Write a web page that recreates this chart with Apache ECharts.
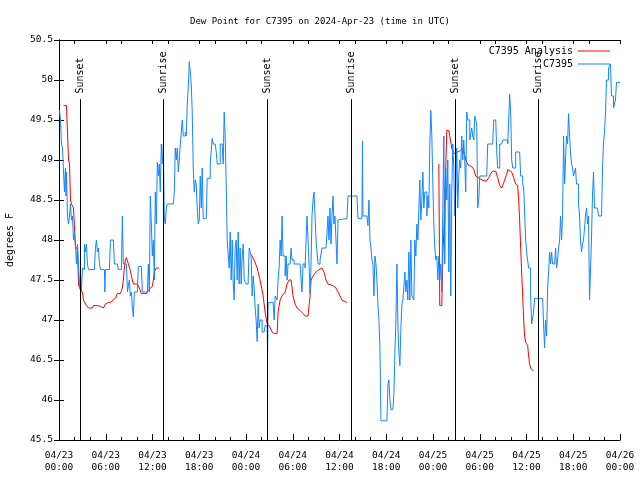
<!DOCTYPE html>
<html>
<head>
<meta charset="utf-8">
<script src="https://cdn.jsdelivr.net/npm/echarts@6/dist/echarts.min.js"></script>
<style>html,body{margin:0;padding:0;background:#fff}#c{width:640px;height:480px}</style>
</head>
<body>
<div id="c"></div>
<script>
// Hours since 2024-04-23 00:00 UTC
const xTickLabels = ['04/23\n00:00','04/23\n06:00','04/23\n12:00','04/23\n18:00','04/24\n00:00','04/24\n06:00','04/24\n12:00','04/24\n18:00','04/25\n00:00','04/25\n06:00','04/25\n12:00','04/25\n18:00','04/26\n00:00'];
const topTickHours = [0,2,6,8,12,14,18,20,24,26,30,32,36,38,42,44,48,50,54,56,60,62,66,68,72];
const sunNames = ['Sunset','Sunrise','Sunset','Sunrise','Sunset','Sunrise'];
const sunHours = [2.79,13.43,26.75,37.51,50.83,61.47];

const analysisPoints = [
[0.58,49.68],[0.96,49.68],[1.09,49.35],[1.22,49.0],[1.35,48.95],[1.47,48.5],[1.60,48.45],[1.86,48.4],[1.99,48.15],[2.11,47.9],[2.37,47.9],[2.50,47.45],[2.75,47.37],[3.01,47.35],[3.14,47.25],[3.39,47.25],[3.52,47.18],[3.78,47.15],[4.29,47.15],[4.42,47.18],[4.93,47.18],[5.32,47.17],[5.70,47.15],[5.96,47.2],[6.34,47.22],[6.60,47.22],[6.98,47.25],[7.24,47.27],[7.49,47.33],[7.88,47.33],[8.13,47.4],[8.26,47.5],[8.39,47.65],[8.52,47.75],[8.65,47.78],[8.90,47.7],[9.16,47.62],[9.29,47.55],[9.54,47.45],[10.06,47.45],[10.31,47.4],[10.57,47.33],[11.21,47.33],[11.47,47.37],[11.72,47.4],[11.98,47.42],[12.11,47.5],[12.23,47.6],[12.49,47.65],[12.87,47.65],
[18.5,null],
[24.66,47.82],[25.05,47.75],[25.43,47.65],[25.81,47.5],[26.20,47.3],[26.45,47.1],[26.71,46.95],[26.97,46.93],[27.35,46.85],[27.61,46.83],[27.99,46.83],[28.12,47.1],[28.38,47.25],[28.63,47.3],[29.02,47.35],[29.27,47.45],[29.53,47.5],[29.79,47.5],[30.04,47.3],[30.30,47.2],[30.55,47.15],[30.94,47.12],[31.32,47.08],[31.58,47.05],[31.96,47.05],[32.22,47.3],[32.35,47.5],[32.60,47.55],[32.99,47.6],[33.37,47.63],[33.75,47.65],[34.01,47.6],[34.27,47.5],[34.52,47.45],[35.17,47.43],[35.55,47.4],[35.81,47.35],[36.06,47.3],[36.32,47.25],[36.70,47.23],[36.96,47.22],
[42.0,null],
[48.75,48.95],[48.87,47.18],[49.13,47.18],[49.26,47.8],[49.39,48.1],[49.51,48.55],[49.64,48.9],[49.77,49.37],[50.03,49.37],[50.15,49.3],[50.41,49.15],[50.67,49.08],[50.92,49.07],[51.18,49.1],[51.56,49.12],[51.82,49.15],[52.07,49.05],[52.33,48.97],[52.59,48.93],[52.97,48.92],[53.23,48.88],[53.49,48.8],[53.74,48.78],[54.13,48.76],[54.51,48.74],[54.90,48.74],[55.15,48.78],[55.41,48.83],[55.66,48.86],[56.05,48.86],[56.30,48.78],[56.56,48.68],[56.82,48.65],[56.95,48.65],[57.20,48.75],[57.46,48.82],[57.59,48.88],[57.84,48.9],[58.10,48.85],[58.35,48.78],[58.61,48.7],[58.87,48.68],[59.0,48.5],[59.12,48.25],[59.25,47.9],[59.38,47.6],[59.51,47.3],[59.64,47.0],[59.76,46.8],[59.89,46.72],[60.15,46.68],[60.27,46.55],[60.40,46.45],[60.53,46.4],[60.78,46.37],[60.91,46.37]
];

const stationPoints = [
[0.06,49.62],[0.19,49.5],[0.32,49.2],[0.45,49.15],[0.58,48.85],[0.70,48.6],[0.83,48.9],[0.90,48.55],[0.96,48.85],[1.09,48.3],[1.22,48.2],[1.35,48.3],[1.47,48.45],[1.60,48.25],[1.73,48.3],[1.86,48.0],[1.99,48.1],[2.11,47.95],[2.24,47.7],[2.37,47.95],[2.50,47.7],[2.63,47.4],[2.75,47.6],[2.88,47.35],[3.01,47.65],[3.14,47.63],[3.27,47.95],[3.39,47.85],[3.52,47.95],[3.65,47.7],[3.78,47.63],[4.55,47.63],[4.68,47.9],[4.80,48.0],[4.93,47.85],[5.06,47.9],[5.19,47.7],[5.32,47.63],[5.83,47.63],[5.89,47.35],[5.96,47.63],[6.47,47.63],[6.60,48.0],[6.98,48.0],[7.11,47.7],[7.49,47.7],[7.62,47.63],[8.01,47.63],[8.13,48.3],[8.26,47.7],[8.65,47.7],[8.78,47.35],[9.03,47.5],[9.16,47.3],[9.29,47.35],[9.42,47.15],[9.54,47.04],[9.67,47.35],[10.06,47.35],[10.18,47.67],[10.57,47.67],[10.70,47.35],[11.34,47.35],[11.47,47.7],[11.59,47.35],[11.72,48.55],[11.85,48.2],[11.98,47.8],[12.11,48.0],[12.23,47.5],[12.36,48.6],[12.49,48.2],[12.62,48.97],[12.75,48.8],[12.87,48.95],[13.00,48.6],[13.13,49.2],[13.26,48.95],[13.39,49.2],[13.51,48.3],[13.64,48.2],[13.77,48.4],[13.90,48.45],[14.67,48.45],[14.80,48.6],[14.92,49.15],[15.05,49.0],[15.18,49.15],[15.31,48.85],[15.44,49.0],[15.57,49.2],[15.69,49.35],[15.82,49.5],[15.95,49.3],[16.21,49.35],[16.33,49.3],[16.46,49.7],[16.59,49.9],[16.72,50.23],[16.85,50.1],[16.97,49.95],[17.10,49.6],[17.23,48.9],[17.36,48.6],[17.49,48.75],[17.61,48.7],[17.74,48.4],[17.87,48.2],[18.00,48.25],[18.13,48.8],[18.26,48.4],[18.38,48.9],[18.51,48.27],[18.90,48.27],[19.02,48.77],[19.41,48.95],[19.66,49.27],[19.79,49.2],[20.05,49.2],[20.18,49.1],[20.31,48.95],[20.56,48.95],[20.69,49.2],[20.95,49.15],[21.08,48.95],[21.20,49.6],[21.33,49.3],[21.46,48.7],[21.59,48.0],[21.72,47.8],[21.84,47.65],[21.97,48.1],[22.10,47.5],[22.23,48.0],[22.36,47.45],[22.48,47.25],[22.61,47.9],[22.74,48.0],[22.87,47.5],[23.00,48.1],[23.12,47.45],[23.25,47.9],[23.38,47.45],[23.51,47.8],[23.64,47.95],[23.77,47.5],[24.02,47.45],[24.28,47.5],[24.41,47.9],[24.66,47.8],[24.79,47.3],[24.92,47.55],[25.05,47.4],[25.17,47.15],[25.30,47.0],[25.43,46.73],[25.56,47.2],[25.69,46.9],[25.81,47.0],[26.07,46.85],[26.33,46.85],[26.45,46.93],[26.71,46.93],[26.77,46.6],[26.84,47.22],[27.48,47.22],[27.61,47.0],[27.74,47.3],[27.99,47.25],[28.12,47.5],[28.25,47.65],[28.38,48.0],[28.51,47.8],[28.63,48.3],[28.76,47.8],[29.02,47.55],[29.15,47.8],[29.27,47.5],[29.40,47.7],[29.66,47.7],[29.79,47.9],[29.91,47.75],[30.17,47.7],[30.94,47.7],[31.07,47.5],[31.19,47.35],[31.32,47.7],[31.58,47.65],[31.71,48.0],[31.83,48.3],[31.96,48.0],[32.09,47.7],[32.22,47.33],[32.35,47.7],[32.47,48.3],[32.60,48.5],[32.73,48.6],[32.86,48.3],[32.99,48.0],[33.24,47.7],[33.50,47.75],[33.75,47.9],[34.27,47.9],[34.40,48.1],[34.52,48.3],[34.65,48.0],[34.78,48.4],[34.91,47.95],[35.04,48.3],[35.17,48.55],[35.29,48.2],[35.42,48.3],[35.55,48.0],[35.68,47.7],[35.81,48.25],[36.06,48.27],[36.96,48.27],[37.09,48.55],[38.24,48.55],[38.37,48.27],[38.88,48.27],[38.95,49.24],[39.01,48.3],[39.52,48.3],[39.65,48.18],[39.78,48.5],[39.91,48.0],[40.04,47.9],[40.16,47.75],[40.29,47.7],[40.42,47.3],[40.55,47.8],[40.68,47.7],[40.80,47.5],[40.93,47.2],[41.06,47.0],[41.19,46.65],[41.32,45.74],[42.09,45.74],[42.22,46.2],[42.34,46.25],[42.47,46.0],[42.60,45.88],[42.86,45.88],[42.99,46.1],[43.11,46.6],[43.24,47.0],[43.37,47.7],[43.50,46.9],[43.62,46.6],[43.75,46.43],[43.88,46.9],[44.01,47.2],[44.14,47.25],[44.39,47.6],[44.52,47.35],[44.65,47.5],[44.77,47.25],[44.90,47.85],[45.03,47.25],[45.16,48.0],[45.29,47.3],[45.54,47.25],[45.67,48.0],[45.80,47.8],[45.93,48.2],[46.06,48.0],[46.31,48.75],[46.44,48.25],[46.57,48.5],[46.70,48.85],[46.82,48.4],[46.95,48.6],[47.21,48.3],[47.34,48.55],[47.47,48.4],[47.59,49.2],[47.72,49.62],[47.85,49.3],[47.98,48.7],[48.11,48.2],[48.23,47.9],[48.36,47.75],[48.49,47.8],[48.62,47.5],[48.75,47.8],[48.87,47.5],[49.00,47.7],[49.13,47.35],[49.26,48.4],[49.39,49.3],[49.51,47.7],[49.64,48.9],[49.77,48.5],[49.90,49.0],[50.03,47.6],[50.15,48.7],[50.28,47.3],[50.41,48.6],[50.54,49.2],[50.67,48.9],[50.79,48.3],[50.92,48.6],[51.05,49.15],[51.18,48.4],[51.31,48.8],[51.43,49.0],[51.56,48.9],[51.69,49.3],[51.82,49.0],[51.95,49.25],[52.07,49.0],[52.20,48.6],[52.33,49.6],[52.46,49.5],[52.72,49.25],[52.97,49.4],[53.10,49.3],[53.23,49.25],[53.36,49.55],[53.61,49.45],[53.74,48.4],[53.87,48.5],[54.00,48.8],[54.90,48.8],[55.02,49.2],[55.66,49.2],[55.79,49.5],[56.05,49.5],[56.18,49.1],[56.30,48.9],[56.56,49.2],[56.82,49.2],[56.95,49.25],[57.59,49.2],[57.71,49.5],[57.84,49.82],[57.97,49.6],[58.10,49.0],[58.23,48.9],[58.48,48.9],[58.61,49.1],[58.74,49.1],[59.12,49.1],[59.25,48.8],[59.51,48.7],[59.64,48.65],[59.89,48.0],[60.02,47.85],[60.27,47.65],[60.53,47.3],[60.66,46.95],[60.91,47.1],[61.04,47.27],[62.07,47.27],[62.19,46.95],[62.32,46.65],[62.45,47.0],[62.58,46.8],[62.71,47.4],[62.84,47.6],[62.96,47.85],[63.09,47.7],[63.22,47.85],[63.35,47.7],[63.61,47.7],[63.73,47.9],[63.86,47.65],[63.99,47.75],[64.12,47.9],[64.25,48.0],[64.37,48.3],[64.50,48.0],[64.63,48.3],[64.76,49.3],[64.89,48.7],[65.01,49.0],[65.14,49.3],[65.27,49.2],[65.40,49.58],[65.53,49.3],[65.65,49.1],[65.78,48.95],[65.91,48.9],[66.04,48.8],[66.29,48.9],[66.42,48.7],[66.68,48.45],[66.81,48.3],[66.93,48.0],[67.06,47.85],[67.19,47.95],[67.32,48.0],[67.57,48.3],[67.70,48.4],[67.83,48.2],[67.96,48.3],[68.09,47.25],[68.21,47.6],[68.34,48.0],[68.47,48.55],[68.60,48.85],[68.73,48.4],[69.11,48.4],[69.24,48.3],[69.63,48.3],[69.76,48.9],[69.88,49.2],[70.01,49.35],[70.14,49.6],[70.27,50.0],[70.53,50.15],[70.78,50.2],[70.91,49.8],[71.04,49.8],[71.17,49.65],[71.29,49.7],[71.42,49.75],[71.55,49.97],[72.0,49.97]
];

const FONT = 'DejaVu Sans Mono';
const chart = echarts.init(document.getElementById('c'), null, {renderer: 'canvas'});
const sunLineTop = 49.76;
const sunLabelAt = 49.83;

chart.setOption({
  animation: false,
  backgroundColor: '#ffffff',
  title: {
    text: 'Dew Point for C7395 on 2024-Apr-23 (time in UTC)',
    left: 'center', top: 12,
    textStyle: {fontFamily: FONT, fontSize: 9, fontWeight: 'normal', color: '#000'}
  },
  legend: [
    {data: ['C7395 Analysis'], orient: 'vertical', right: 25, top: 41, align: 'right', itemWidth: 32, itemHeight: 1, icon: 'rect',
     textStyle: {fontFamily: FONT, fontSize: 10, color: '#000'}},
    {data: ['C7395'], orient: 'vertical', right: 25, top: 54, align: 'right', itemWidth: 32, itemHeight: 1, icon: 'rect',
     textStyle: {fontFamily: FONT, fontSize: 10, color: '#000'}}
  ],
  grid: {left: 59, right: 20, top: 40, bottom: 40, containLabel: false, outerBoundsMode: 'none'},
  xAxis: [
    {type: 'value', position: 'bottom', min: 0, max: 72, interval: 6,
     axisLine: {onZero: false, lineStyle: {color: '#000', width: 1}},
     axisTick: {inside: true, length: 6, lineStyle: {color: '#000'}},
     minorTick: {show: true, splitNumber: 3, length: 3, lineStyle: {color: '#000'}},
     splitLine: {show: false},
     axisLabel: {fontFamily: FONT, fontSize: 9.5, color: '#000', lineHeight: 12, margin: 10,
       formatter: v => xTickLabels[Math.round(v / 6)]}},
    {type: 'value', position: 'top', min: 0, max: 72, interval: 2,
     axisLine: {onZero: false, lineStyle: {color: '#000', width: 1}},
     axisTick: {inside: true, length: 4, customValues: topTickHours, lineStyle: {color: '#000'}},
     splitLine: {show: false}, axisLabel: {show: false}}
  ],
  yAxis: [
    {type: 'value', position: 'left', min: 45.5, max: 50.5, interval: 0.5,
     name: 'degrees F', nameLocation: 'middle', nameGap: 44, nameRotate: 90,
     nameTextStyle: {fontFamily: FONT, fontSize: 10, color: '#000'},
     axisLine: {show: true, lineStyle: {color: '#000', width: 1}},
     axisTick: {show: true, inside: true, length: 5, lineStyle: {color: '#000'}},
     splitLine: {show: false},
     axisLabel: {fontFamily: FONT, fontSize: 9.5, color: '#000', margin: 6}},
    {type: 'value', position: 'right', min: 45.5, max: 50.5, interval: 0.5,
     axisLine: {show: true, lineStyle: {color: '#000', width: 1}},
     axisTick: {show: true, inside: true, length: 5, lineStyle: {color: '#000'}},
     splitLine: {show: false}, axisLabel: {show: false}}
  ],
  series: [
    {name: 'C7395 Analysis', type: 'line', data: analysisPoints, showSymbol: false, connectNulls: false,
     color: '#ff0000', lineStyle: {color: '#ff0000', width: 1}, z: 2},
    {name: 'C7395', type: 'line', step: 'end', data: stationPoints, showSymbol: false,
     color: '#1387ff', lineStyle: {color: '#1387ff', width: 1}, z: 3},
    {name: 'sun', type: 'scatter', symbolSize: 1, itemStyle: {color: '#ffffff', opacity: 1}, silent: true, z: 4,
     data: sunHours.map((h, i) => ({value: [h, sunLabelAt], name: sunNames[i]})),
     label: {show: true, position: 'inside', rotate: 90, align: 'left', verticalAlign: 'middle', opacity: 1,
       textBorderWidth: 0, formatter: p => p.name, fontFamily: FONT, fontSize: 10, color: '#000000'},
     markLine: {silent: true, symbol: ['none', 'none'], label: {show: false},
       lineStyle: {color: '#000', width: 1, type: 'solid'},
       data: sunHours.map(h => [{coord: [h, sunLineTop]}, {coord: [h, 45.5]}])}}
  ]
});
</script>
</body>
</html>
